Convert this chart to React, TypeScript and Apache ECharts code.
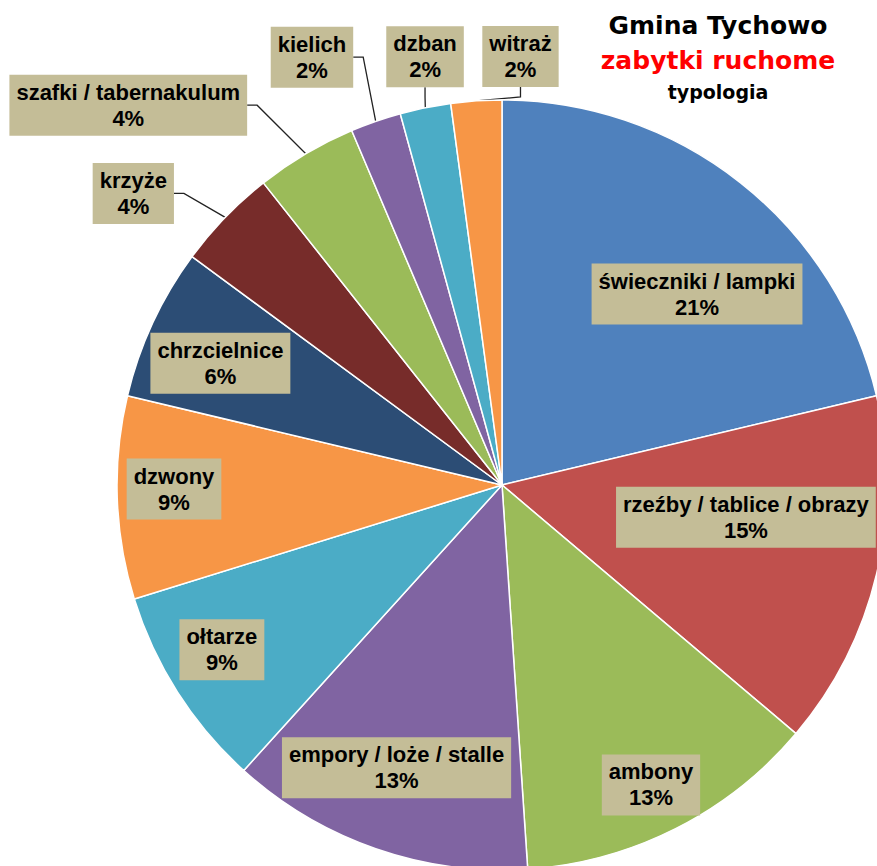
import React, { useEffect, useRef } from "react";
import * as echarts from "echarts";

const categories = [
  "świeczniki / lampki",
  "rzeźby / tablice / obrazy",
  "ambony",
  "empory / loże / stalle",
  "ołtarze",
  "dzwony",
  "chrzcielnice",
  "krzyże",
  "szafki / tabernakulum",
  "kielich",
  "dzban",
  "witraż",
];
const counts = [10, 7, 6, 6, 4, 4, 3, 2, 2, 1, 1, 1];
const colors = [
  "#4F81BD", "#C0504D", "#9BBB59", "#8064A2", "#4BACC6", "#F79646",
  "#2C4D75", "#772C2A", "#9BBB59", "#8064A2", "#4BACC6", "#F79646",
];
const outside = [false, false, false, false, false, false, false, true, true, true, true, true];
// label placement: radius as a fraction of pie radius, and angular shift from slice mid-angle (deg)
const labelRadius = [0.709, 0.639, 0.87, 0.784, 0.844, 0.852, 0.797, 1.221, 1.384, 1.216, 1.13, 1.114];
const labelShift = [7.3, -5.9, 0.4, 1.3, 2.1, 1.2, -1.5, -5.7, -13.9, -4.8, 1.3, 6.3];

const CX = 502;
const CY = 485;
const R = 385;

export default function App() {
  const ref = useRef<HTMLDivElement>(null);
  useEffect(() => {
    document.body.style.margin = "0";
    const chart = echarts.init(ref.current!, null, { renderer: "svg" });
    const total = counts.reduce((a, b) => a + b, 0);
    const midAngles: number[] = [];
    let cum = 0;
    counts.forEach((c) => {
      midAngles.push(((cum + c / 2) / total) * 360);
      cum += c;
    });
    const labelBase = {
      fontFamily: "Liberation Sans, Arial, sans-serif",
      fontSize: 22,
      fontWeight: "bold",
      color: "#000",
      lineHeight: 26,
      backgroundColor: "#C4BD97",
      padding: [5, 7, 4, 7],
      align: "center",
    };
    const data = categories.map((name, i) => ({
      name,
      value: counts[i],
      itemStyle: { color: colors[i] },
      label: { ...labelBase, position: outside[i] ? "outside" : "inside" },
      labelLine: outside[i]
        ? { show: true, length: 10, length2: 10, lineStyle: { color: "#222", width: 1.3 } }
        : { show: false },
    }));
    chart.setOption({
      animation: false,
      backgroundColor: "#fff",
      graphic: [
        {
          type: "text",
          x: 718,
          y: 25,
          style: {
            text: "Gmina Tychowo",
            align: "center",
            verticalAlign: "middle",
            fontFamily: "DejaVu Sans",
            fontWeight: "bold",
            fontSize: 25,
            fill: "#000",
          },
        },
        {
          type: "text",
          x: 718,
          y: 60,
          style: {
            text: "zabytki ruchome",
            align: "center",
            verticalAlign: "middle",
            fontFamily: "DejaVu Sans",
            fontWeight: "bold",
            fontSize: 25,
            fill: "#FF0000",
          },
        },
        {
          type: "text",
          x: 718,
          y: 92,
          style: {
            text: "typologia",
            align: "center",
            verticalAlign: "middle",
            fontFamily: "DejaVu Sans",
            fontWeight: "bold",
            fontSize: 19,
            fill: "#000",
          },
        },
      ],
      series: [
        {
          type: "pie",
          center: [CX, CY],
          radius: [0, R],
          startAngle: 90,
          clockwise: true,
          avoidLabelOverlap: false,
          itemStyle: { borderColor: "#fff", borderWidth: 1.5 },
          emphasis: { disabled: true },
          label: {
            formatter: (p: any) => `${p.name}\n${Math.round(p.percent)}%`,
          },
          labelLayout: (params: any) => {
            const i = params.dataIndex;
            const a = ((midAngles[i] + labelShift[i]) * Math.PI) / 180;
            const rr = labelRadius[i] * R;
            return {
              x: CX + rr * Math.sin(a),
              y: CY - rr * Math.cos(a),
              align: "center",
              verticalAlign: "middle",
            };
          },
          data,
        },
      ],
    });
    return () => chart.dispose();
  }, []);
  return <div ref={ref} style={{ width: 877, height: 866 }} />;
}
